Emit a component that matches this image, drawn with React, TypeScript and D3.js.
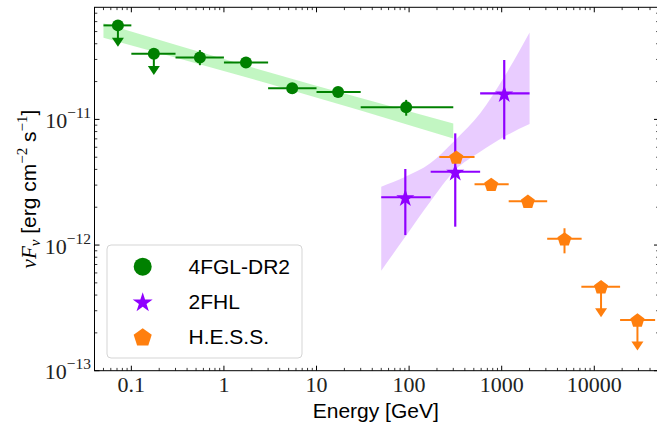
import * as d3 from 'd3';

// 4FGL-DR2 points
const fglE = [0.0716, 0.175, 0.55, 1.73, 5.46, 17.1, 93];
const fglElo = [0.05, 0.1, 0.3, 1, 3, 10, 30];
const fglEhi = [0.1, 0.3, 1, 3, 10, 30, 300];
const fglFlux = [5.6e-11, 3.33e-11, 3.11e-11, 2.84e-11, 1.77e-11, 1.65e-11, 1.25e-11];
const fglFluxLo = [null, null, 2.7e-11, null, null, null, 1.07e-11];
const fglFluxHi = [null, null, 3.56e-11, null, null, null, 1.43e-11];
const fglUlEnd = [4.12e-11, 2.45e-11, null, null, null, null, null];

// 4FGL-DR2 butterfly
const fglBandE = [0.05, 3, 300];
const fglBandLo = [4.46e-11, 1.93e-11, 7.06e-12];
const fglBandHi = [5.81e-11, 2.38e-11, 9.29e-12];

// 2FHL points
const fhlE = [91, 315, 1065];
const fhlElo = [50, 171, 585];
const fhlEhi = [171, 585, 2000];
const fhlFlux = [2.4e-12, 3.83e-12, 1.61e-11];
const fhlFluxLo = [1.2e-12, 1.4e-12, 6.93e-12];
const fhlFluxHi = [4.03e-12, 7.74e-12, 2.97e-11];

// 2FHL butterfly
const fhlBandE = [50, 91, 169, 315, 586, 1065, 2000];
const fhlBandLo = [6.25e-13, 1.164e-12, 2.21e-12, 3.95e-12, 5.52e-12, 7.28e-12, 9.18e-12];
const fhlBandHi = [2.91e-12, 3.49e-12, 4.47e-12, 6.84e-12, 1.117e-11, 2.18e-11, 4.92e-11];

// H.E.S.S. points
const hessE = [323, 771, 1918, 4768, 11830, 29250];
const hessElo = [212, 509, 1190, 3100, 7250, 19000];
const hessEhi = [509, 1190, 3100, 7300, 19000, 45400];
const hessFlux = [5.01e-12, 3.04e-12, 2.23e-12, 1.12e-12, 4.66e-13, 2.53e-13];
const hessFluxLo = [null, null, null, 8.59e-13, null, null];
const hessFluxHi = [null, null, null, 1.36e-12, null, null];
const hessUlEnd = [null, null, null, null, 2.89e-13, 1.57e-13];

const xTickVals = [0.1, 1, 10, 100, 1000, 10000];
const xTickLabels = ['0.1', '1', '10', '100', '1000', '10000'];
const yTickVals = [1e-13, 1e-12, 1e-11];
const yTickExps = ['\u221213', '\u221212', '\u221211'];

const legendNames = ['4FGL-DR2', '2FHL', 'H.E.S.S.'];

const GREEN = '#008000';
const PURPLE = '#8f00ff';
const ORANGE = '#ff7f0e';

const W = 657;
const H = 428;
const left = 94.5;
const right = 659;
const top = 7.3;
const bottom = 370.7;

const x = d3.scaleLog().domain([0.04, 5e4]).range([left, right]);
const y = d3.scaleLog().domain([1e-13, 7.8e-11]).range([bottom, top]);

const serif = '"Liberation Serif", "DejaVu Serif", serif';
const sans = '"Liberation Sans", Arial, sans-serif';

function starPath(r: number) {
  const pts: [number, number][] = [];
  for (let i = 0; i < 10; i++) {
    const rr = i % 2 === 0 ? r : r * 0.382;
    const a = -Math.PI / 2 + (i * Math.PI) / 5;
    pts.push([rr * Math.cos(a), rr * Math.sin(a)]);
  }
  return 'M' + pts.map((p) => p.join(',')).join('L') + 'Z';
}

function pentPath(r: number) {
  const pts: [number, number][] = [];
  for (let i = 0; i < 5; i++) {
    const a = -Math.PI / 2 + (i * 2 * Math.PI) / 5;
    pts.push([r * Math.cos(a), r * Math.sin(a)]);
  }
  return 'M' + pts.map((p) => p.join(',')).join('L') + 'Z';
}

function band(E: number[], lo: number[], hi: number[]) {
  const area = d3
    .area<number>()
    .x((i) => x(E[i]))
    .y0((i) => y(lo[i]))
    .y1((i) => y(hi[i]))
    .curve(d3.curveMonotoneX);
  return area(d3.range(E.length)) || '';
}

function Series({
  E, Elo, Ehi, F, Flo, Fhi, ul, color, marker, lw,
}: {
  E: number[]; Elo: number[]; Ehi: number[]; F: number[];
  Flo: (number | null)[]; Fhi: (number | null)[]; ul: (number | null)[] | null;
  color: string; marker: (cx: number, cy: number, key: string) => JSX.Element; lw: number;
}) {
  return (
    <g>
      {E.map((e, i) => {
        const cx = x(e);
        const cy = y(F[i]);
        const end = ul ? ul[i] : null;
        return (
          <g key={i}>
            <line x1={x(Elo[i])} x2={x(Ehi[i])} y1={cy} y2={cy} stroke={color} strokeWidth={lw} />
            {Flo[i] != null && (
              <line x1={cx} x2={cx} y1={y(Flo[i] as number)} y2={y(Fhi[i] as number)} stroke={color} strokeWidth={lw} />
            )}
            {end != null && (
              <g>
                <line x1={cx} x2={cx} y1={cy} y2={y(end)} stroke={color} strokeWidth={lw} />
                <path
                  d={`M${cx - 6},${y(end) - 4.5}L${cx + 6},${y(end) - 4.5}L${cx},${y(end) + 4.5}Z`}
                  fill={color}
                />
              </g>
            )}
            {marker(cx, cy, 'm' + i)}
          </g>
        );
      })}
    </g>
  );
}

export default function App() {
  const xMinor = x.ticks().filter((t) => Math.abs(Math.log10(t) - Math.round(Math.log10(t))) > 1e-6);
  const yMinor = y.ticks().filter((t) => Math.abs(Math.log10(t) - Math.round(Math.log10(t))) > 1e-6);
  const major = 5;
  const minor = 2.8;

  const circle = (cx: number, cy: number, k: string) => <circle key={k} cx={cx} cy={cy} r={6} fill={GREEN} />;
  const star = (cx: number, cy: number, k: string) => (
    <path key={k} d={starPath(9.5)} transform={`translate(${cx},${cy + 1})`} fill={PURPLE} />
  );
  const pent = (cx: number, cy: number, k: string) => (
    <path key={k} d={pentPath(7.4)} transform={`translate(${cx},${cy + 0.7})`} fill={ORANGE} />
  );

  return (
    <div style={{ position: 'absolute', left: 0, top: 0 }}>
      <svg width={W} height={H} style={{ display: 'block', background: '#fff' }}>
        {/* butterflies */}
        <path d={band(fglBandE, fglBandLo, fglBandHi)} fill="#90ee90" fillOpacity={0.55} />
        <path d={band(fhlBandE, fhlBandLo, fhlBandHi)} fill={PURPLE} fillOpacity={0.2} />

        <Series E={fglE} Elo={fglElo} Ehi={fglEhi} F={fglFlux} Flo={fglFluxLo} Fhi={fglFluxHi}
          ul={fglUlEnd} color={GREEN} marker={circle} lw={2} />
        <Series E={fhlE} Elo={fhlElo} Ehi={fhlEhi} F={fhlFlux} Flo={fhlFluxLo} Fhi={fhlFluxHi}
          ul={null} color={PURPLE} marker={star} lw={2.2} />
        <Series E={hessE} Elo={hessElo} Ehi={hessEhi} F={hessFlux} Flo={hessFluxLo} Fhi={hessFluxHi}
          ul={hessUlEnd} color={ORANGE} marker={pent} lw={2} />

        {/* frame */}
        <rect x={left} y={top} width={right - left} height={bottom - top} fill="none" stroke="#000" strokeWidth={1} />

        {/* x ticks, inward, bottom and top */}
        {xTickVals.map((t) => (
          <g key={'xM' + t}>
            <line x1={x(t)} x2={x(t)} y1={bottom} y2={bottom - major} stroke="#000" />
            <line x1={x(t)} x2={x(t)} y1={top} y2={top + major} stroke="#000" />
          </g>
        ))}
        {xMinor.map((t) => (
          <g key={'xm' + t}>
            <line x1={x(t)} x2={x(t)} y1={bottom} y2={bottom - minor} stroke="#000" strokeWidth={0.8} />
            <line x1={x(t)} x2={x(t)} y1={top} y2={top + minor} stroke="#000" strokeWidth={0.8} />
          </g>
        ))}
        {xTickVals.map((t, i) => (
          <text key={'xl' + t} x={x(t)} y={391.5} textAnchor="middle" fontFamily={serif} fontSize={22} fill="#222">
            {xTickLabels[i]}
          </text>
        ))}

        {/* y ticks */}
        {yTickVals.map((t) => (
          <g key={'yM' + t}>
            <line x1={left} x2={left + major} y1={y(t)} y2={y(t)} stroke="#000" />
            <line x1={right} x2={right - major} y1={y(t)} y2={y(t)} stroke="#000" />
          </g>
        ))}
        {yMinor.map((t) => (
          <g key={'ym' + t}>
            <line x1={left} x2={left + minor} y1={y(t)} y2={y(t)} stroke="#000" strokeWidth={0.8} />
            <line x1={right} x2={right - minor} y1={y(t)} y2={y(t)} stroke="#000" strokeWidth={0.8} />
          </g>
        ))}
        {yTickVals.map((t, i) => (
          <text key={'yl' + t} x={91} y={y(t) + 8.5} textAnchor="end" fontFamily={serif} fontSize={22} fill="#222">
            10
            <tspan dy={-10} fontSize={15.5}>{yTickExps[i]}</tspan>
          </text>
        ))}

        {/* axis labels */}
        <text x={(left + 657) / 2} y={418} textAnchor="middle" fontFamily={sans} fontSize={21} fill="#000">
          Energy [GeV]
        </text>
        <text transform={`translate(36,189) rotate(-90)`} textAnchor="middle" fontSize={21} fill="#000">
          <tspan fontFamily={serif} fontStyle="italic">νF</tspan>
          <tspan fontFamily={serif} fontStyle="italic" fontSize={15} dy={4}>ν</tspan>
          <tspan fontFamily={sans} dy={-4}> [erg cm</tspan>
          <tspan fontFamily={serif} fontSize={15} dy={-9}>−2</tspan>
          <tspan fontFamily={sans} dy={9}> s</tspan>
          <tspan fontFamily={serif} fontSize={15} dy={-9}>−1</tspan>
          <tspan fontFamily={sans} dy={9}>]</tspan>
        </text>

        {/* legend */}
        <rect x={107} y={245} width={195} height={113} rx={4} fill="#fff" fillOpacity={0.8} stroke="#d5d5d5" strokeWidth={1} />
        {legendNames.map((name, i) => {
          const ly = 266.7 + i * 35;
          return (
            <g key={name}>
              {i === 0 && <circle cx={142.7} cy={ly} r={9} fill={GREEN} />}
              {i === 1 && <path d={starPath(10.5)} transform={`translate(142.7,${ly + 1})`} fill={PURPLE} />}
              {i === 2 && <path d={pentPath(9.5)} transform={`translate(142.7,${ly + 1})`} fill={ORANGE} />}
              <text x={188.5} y={ly + 7} fontFamily={sans} fontSize={21} fill="#000">
                {name}
              </text>
            </g>
          );
        })}
      </svg>
    </div>
  );
}
